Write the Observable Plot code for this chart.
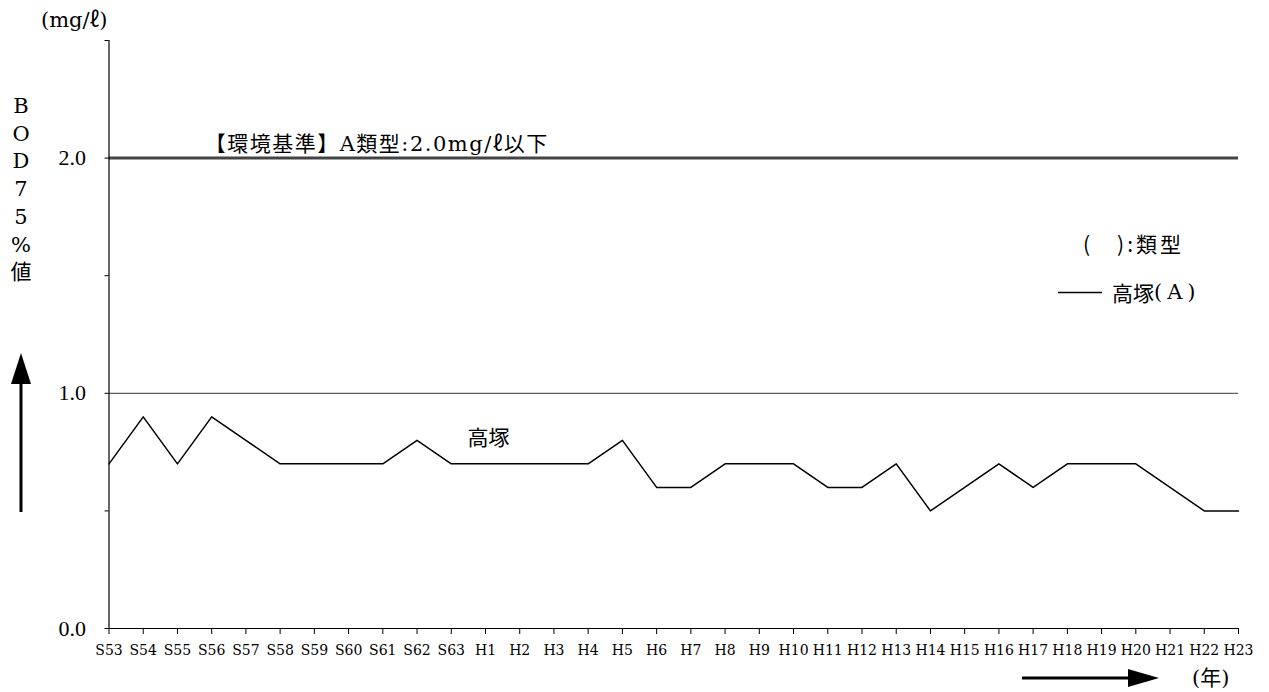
<!DOCTYPE html>
<html><head><meta charset="utf-8">
<script src="https://cdn.jsdelivr.net/npm/d3@7"></script>
<script src="https://cdn.jsdelivr.net/npm/@observablehq/plot@0.6"></script>
<style>
body{margin:0;background:#fff;}
#wrap{position:relative;width:1269px;height:692px;}
</style></head><body>
<div id="wrap"></div>
<script>
const years = ["S53","S54","S55","S56","S57","S58","S59","S60","S61","S62","S63",
  "H1","H2","H3","H4","H5","H6","H7","H8","H9","H10","H11","H12","H13","H14","H15","H16","H17","H18","H19","H20","H21","H22","H23"];
const takatsuka = [0.7,0.9,0.7,0.9,0.8,0.7,0.7,0.7,0.7,0.8,0.7,
  0.7,0.7,0.7,0.7,0.8,0.6,0.6,0.7,0.7,0.7,0.6,0.6,0.7,0.5,0.6,0.7,0.6,0.7,0.7,0.7,0.6,0.5,0.5];
const yTicks = [0,0.5,1.0,1.5,2.0,2.5];
const yLabels = [0,1.0,2.0];
const standardValue = 2.0;
const standardText = "【環境基準】A類型:2.0mg/ℓ以下";
const seriesLabel = "高塚";
const legendTitle = "(　):類型";
const legendName = "高塚";
const legendType = "(A)";
const unitText = "(mg/ℓ)";
const yTitle = ["B","O","D","7","5","%","値"];
const xUnit = "(年)";

const data = years.map((y,i)=>({year:y, value:takatsuka[i]}));
const serif = '"DejaVu Serif","Noto Sans CJK JP",serif';
const lib = '"Liberation Serif","Noto Sans CJK JP",serif';
const cjk = '"Noto Sans CJK JP",sans-serif';

const chart = Plot.plot({
  width:1269, height:692,
  marginLeft:108.5, marginRight:31, marginTop:40, marginBottom:64,
  style:{fontFamily:serif, color:"#000", background:"#fff", overflow:"visible"},
  x:{type:"point", domain:years, padding:0, round:false},
  y:{domain:[0,2.5]},
  marks:[
    Plot.ruleY([1.0],{stroke:"#333",strokeWidth:1}),
    Plot.ruleY([standardValue],{stroke:"#444",strokeWidth:3}),
    Plot.ruleY([0],{stroke:"#000",strokeWidth:1.2}),
    Plot.ruleX([years[0]],{y1:0,y2:2.5,stroke:"#000",strokeWidth:1.2}),
    Plot.axisY({ticks:yTicks, tickSize:4, tickPadding:19, fontSize:22, fontFamily:lib, label:null,
      tickFormat:d=> yLabels.includes(d) ? d.toFixed(1) : ""}),
    Plot.axisX({tickSize:6, tickPadding:11, fontSize:14, fontFamily:serif, label:null}),
    Plot.line(data,{x:"year",y:"value",stroke:"#000",strokeWidth:1.5}),
    Plot.text([{x:years[3],y:standardValue}],{x:"x",y:"y",text:()=>standardText,textAnchor:"start",dx:-7,dy:-14,fontSize:21,fontFamily:serif,fill:"#000"}),
    Plot.text([{x:years[11],y:0.81}],{x:"x",y:"y",text:()=>seriesLabel,textAnchor:"middle",dx:3,fontSize:21,fontFamily:cjk,fill:"#000"})
  ]
});
chart.querySelectorAll("text").forEach(t=>{ if(t.textContent===standardText) t.setAttribute("letter-spacing","1.5"); });
const wrap = document.getElementById("wrap");
chart.style.position="absolute"; chart.style.left="0"; chart.style.top="0";
wrap.appendChild(chart);

// overlay: titles, legend, arrows
const ns="http://www.w3.org/2000/svg";
const deco=document.createElementNS(ns,"svg");
deco.setAttribute("width",1269); deco.setAttribute("height",692);
deco.style.position="absolute"; deco.style.left="0"; deco.style.top="0";
function txt(s,x,y,size,family,anchor,extra){
  const t=document.createElementNS(ns,"text");
  t.setAttribute("x",x); t.setAttribute("y",y);
  t.setAttribute("font-size",size); t.setAttribute("font-family",family);
  t.setAttribute("text-anchor",anchor||"start");
  t.setAttribute("dominant-baseline","central");
  t.setAttribute("fill","#000");
  if(extra) for(const k in extra) t.setAttribute(k,extra[k]);
  t.textContent=s; deco.appendChild(t); return t;
}
txt(unitText,41,20,21,serif);
yTitle.forEach((c,i)=>txt(c,21,106+i*27.7,21,serif,"middle"));
txt(legendTitle,1083,243,21,cjk,"start",{"letter-spacing":"3"});
const lg = txt(legendName,1112,292,21,cjk);
const ts=document.createElementNS(ns,"tspan");
ts.setAttribute("font-family",serif); ts.setAttribute("letter-spacing","5");
ts.textContent=legendType; lg.appendChild(ts);
txt(xUnit,1192,678,21,serif);
deco.insertAdjacentHTML("beforeend",`
 <line x1="21" y1="512" x2="21" y2="380" stroke="#000" stroke-width="3"/>
 <polygon points="21,353 11,384 31,384" fill="#000"/>
 <line x1="1022" y1="678" x2="1132" y2="678" stroke="#000" stroke-width="3"/>
 <polygon points="1159,678 1128,669 1128,687" fill="#000"/>
 <line x1="1058" y1="292.5" x2="1102" y2="292.5" stroke="#000" stroke-width="1.5"/>`);
wrap.appendChild(deco);
</script>
</body></html>
